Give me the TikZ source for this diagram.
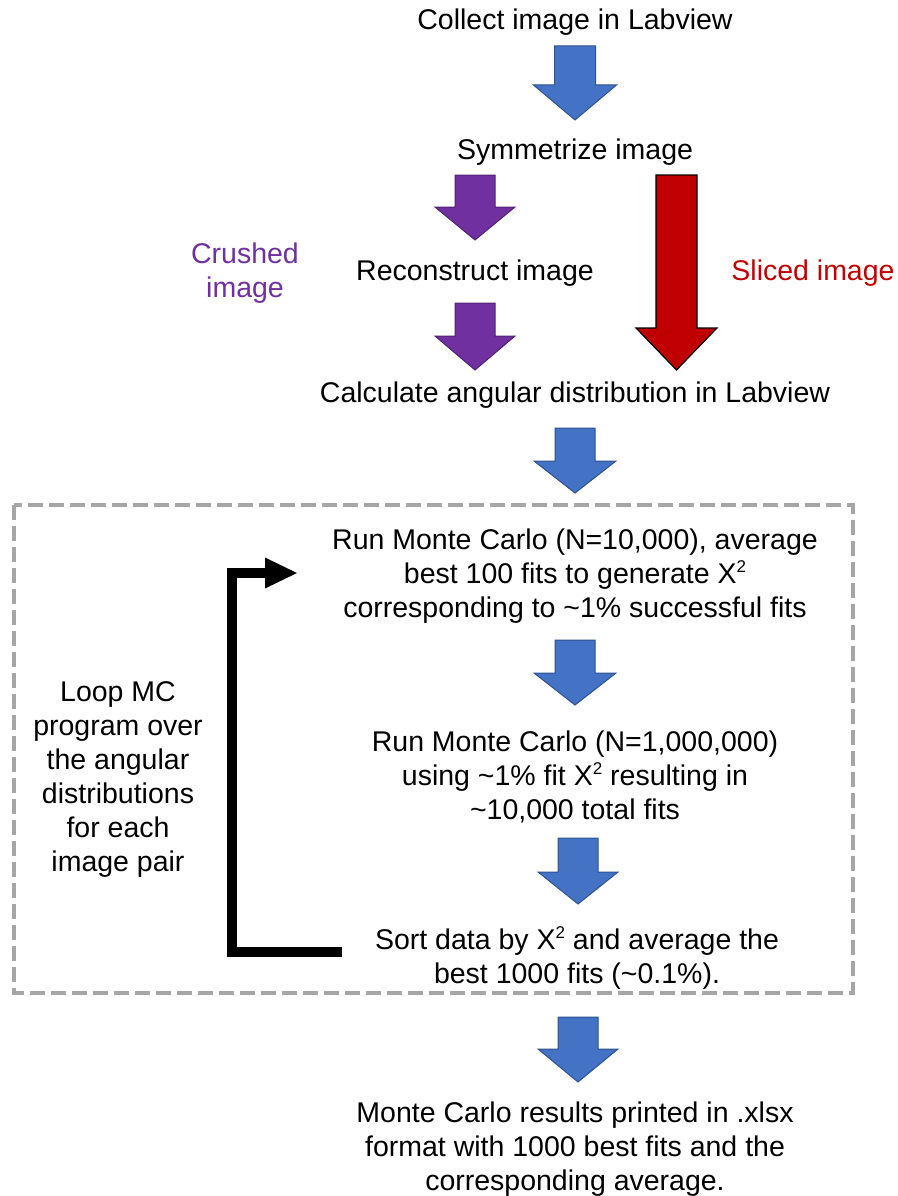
\documentclass[tikz,border=0pt]{standalone}
\usepackage{fontspec}
\setmainfont{Liberation Sans}
\definecolor{bluefill}{HTML}{4472C4}
\definecolor{blueline}{HTML}{2F528F}
\definecolor{purplefill}{HTML}{7030A0}
\definecolor{purpleline}{HTML}{4E2270}
\definecolor{redfill}{HTML}{C00000}
\definecolor{boxgray}{HTML}{A6A6A6}
\newcommand\blockarr[7]{%
  \path[#1] (#2-#3,#5) -- (#2+#3,#5) -- (#2+#3,#6) -- (#2+#4,#6) -- (#2,#7)
    -- (#2-#4,#6) -- (#2-#3,#6) -- cycle;}
\newcommand\sqtwo{\raisebox{0.38em}{\fontsize{17}{17}\selectfont 2}}
\begin{document}
\begin{tikzpicture}[x=1pt,y=-1pt,
  txt/.style={inner sep=0pt,align=center,font=\fontsize{28.5}{34}\selectfont},
  bluearr/.style={fill=bluefill,draw=blueline,line width=1pt,line join=miter},
  purparr/.style={fill=purplefill,draw=purpleline,line width=1pt,line join=miter},
  redarr/.style={fill=redfill,draw=black,line width=1.2pt,line join=miter},
  loopline/.style={line width=10pt,line join=miter,black}]
\useasboundingbox (0,0) rectangle (897,1196);

% dashed frame
\draw[boxgray,line width=4pt,dash pattern=on 15pt off 6pt] (14,505) rectangle (853,993);

% block arrows
\blockarr{bluearr}{575}{20.5}{41.5}{46}{85}{120}
\blockarr{purparr}{475}{20}{40}{175}{207}{240}
\blockarr{purparr}{475}{20}{40}{303}{336}{370}
\blockarr{redarr}{676.5}{20.5}{40.5}{175}{328}{370}
\blockarr{bluearr}{575}{20}{41}{428}{461}{493}
\blockarr{bluearr}{575}{20}{41}{640}{673}{705}
\blockarr{bluearr}{578}{20}{40}{838}{872}{904}
\blockarr{bluearr}{578}{20}{40}{1017}{1049}{1082}

% texts
\node[txt] (collect) at (575,22) {Collect image in Labview};
\node[txt] (sym) at (575,152) {Symmetrize image};
\node[txt,text=purplefill] (crushed) at (245,273) {Crushed\\image};
\node[txt] (recon) at (475,273) {Reconstruct image};
\node[txt,text=redfill] (sliced) at (813,273) {Sliced image};
\node[txt] (calc) at (575,395) {Calculate angular distribution in Labview};
\node[txt] (mc1) at (575,576) {Run Monte Carlo (N=10,000), average\\best 100 fits to generate X\sqtwo\\corresponding to \textasciitilde1\% successful fits};
\node[txt] (loop) at (118,779) {Loop MC\\program over\\the angular\\distributions\\for each\\image pair};
\node[txt] (mc2) at (575,777) {Run Monte Carlo (N=1,000,000)\\using \textasciitilde1\% fit X\sqtwo{} resulting in\\\textasciitilde10,000 total fits};
\node[txt] (sort) at (577,958) {Sort data by X\sqtwo{} and average the\\best 1000 fits (\textasciitilde0.1\%).};
\node[txt] (final) at (575,1149) {Monte Carlo results printed in .xlsx\\format with 1000 best fits and the\\corresponding average.};

% loop arrow
\coordinate (lstart) at (342,952);
\coordinate (lcorner1) at (232,952);
\coordinate (lcorner2) at (232,573);
\coordinate (lhead) at (266,573);
\draw[loopline] (lstart) -- (lcorner1) -- (lcorner2) -- (lhead);
\fill[black] (265,557.5) -- (297,573) -- (265,588.5) -- cycle;
\end{tikzpicture}
\end{document}
